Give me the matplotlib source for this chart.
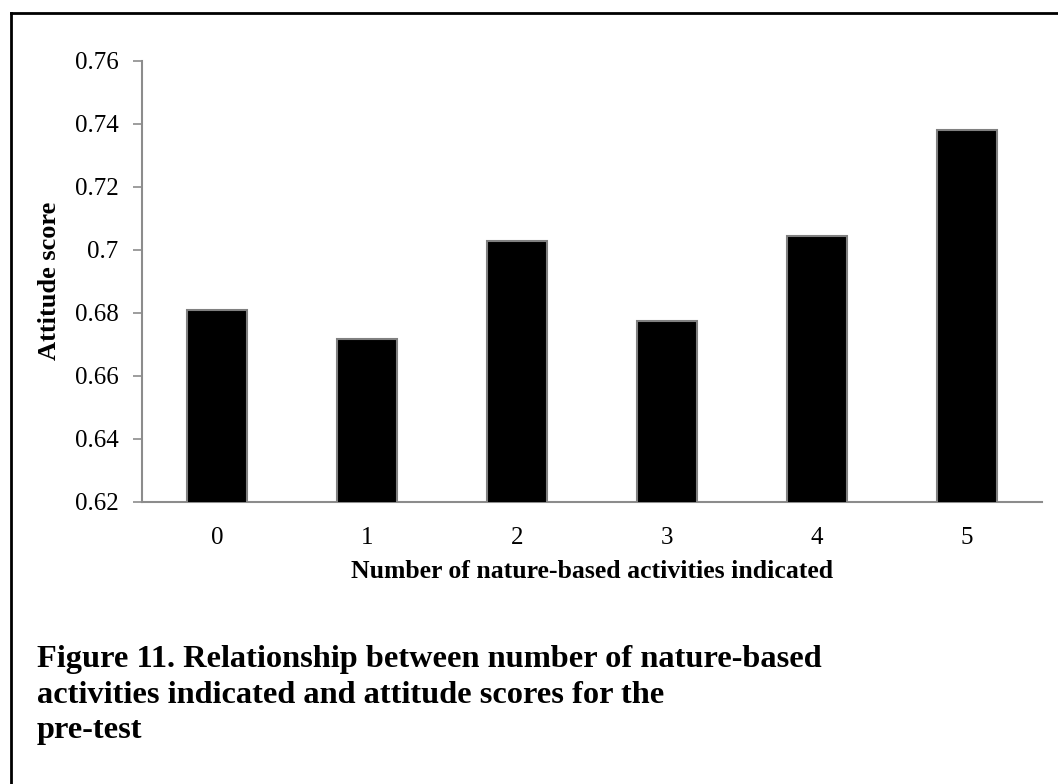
import matplotlib
matplotlib.use("Agg")
import matplotlib.pyplot as plt
from matplotlib.lines import Line2D

categories = ["0", "1", "2", "3", "4", "5"]
values = [0.6809, 0.6717, 0.7028, 0.6774, 0.7044, 0.7380]
yticks = [0.62, 0.64, 0.66, 0.68, 0.70, 0.72, 0.74, 0.76]
ytick_labels = ["0.62", "0.64", "0.66", "0.68", "0.7", "0.72", "0.74", "0.76"]
caption_lines = [
    "Figure 11. Relationship between number of nature-based",
    "activities indicated and attitude scores for the",
    "pre-test",
]

plt.rcParams['font.family'] = ['Liberation Serif', 'DejaVu Serif']

W, H = 1058, 784
fig = plt.figure(figsize=(W / 100, H / 100), dpi=100)
ax = fig.add_axes([142 / W, 1 - 501.7 / H, (1042 - 142) / W, (501.7 - 60.7) / H])

x = list(range(len(categories)))
ax.bar(x, values, width=0.4, color="black", edgecolor="#808080", linewidth=1.5, zorder=3)
ax.set_xlim(-0.5, len(categories) - 0.5)
ax.set_ylim(0.62, 0.76)
ax.set_yticks(yticks)
ax.set_yticklabels(ytick_labels)
ax.set_xticks(x)
ax.set_xticklabels(categories)

for s in ["top", "right"]:
    ax.spines[s].set_visible(False)
for s in ["left", "bottom"]:
    ax.spines[s].set_color("#8c8c8c")
    ax.spines[s].set_linewidth(1.5)
ax.tick_params(axis="y", length=6.5, width=1.2, color="#8c8c8c", labelsize=18, pad=10.5)
ax.tick_params(axis="x", length=0, labelsize=18, pad=18)

ax.set_ylabel("Attitude score", fontsize=19, fontweight="bold")
ax.yaxis.set_label_coords((50 - 142) / (1042 - 142), 0.5)
ax.set_xlabel("Number of nature-based activities indicated", fontsize=18.5, fontweight="bold")
ax.xaxis.set_label_coords(0.5, -(572 - 501.7) / (501.7 - 60.7))
ax.xaxis.label.set_va("center")
ax.yaxis.label.set_va("center")

for txt, base in zip(caption_lines, [667, 703, 738]):
    fig.text(37 / W, 1 - base / H, txt, fontsize=23.3, fontweight="bold",
             ha="left", va="baseline")

# frame lines (top and left)
fig.add_artist(Line2D([10.5 / W, 10.5 / W], [0, 1 - 12.5 / H], color="black", lw=2, transform=fig.transFigure))
fig.add_artist(Line2D([10.5 / W, 1], [1 - 12.5 / H, 1 - 12.5 / H], color="black", lw=2, transform=fig.transFigure))

fig.savefig("out.png", dpi=100, facecolor="white")
